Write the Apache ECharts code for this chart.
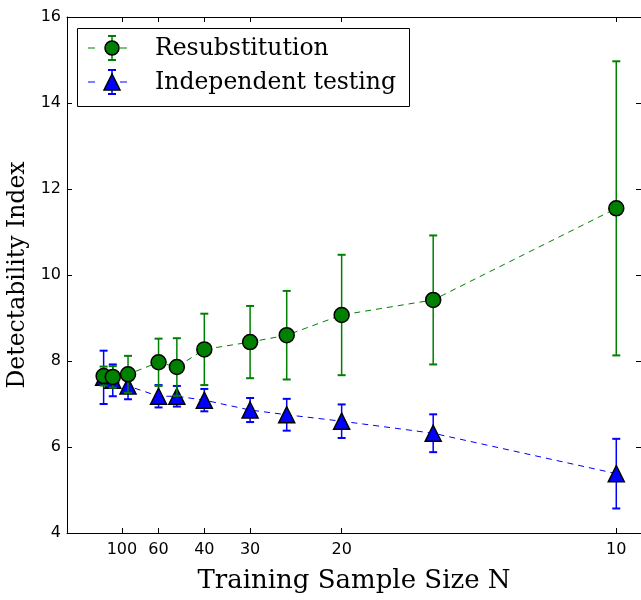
<!DOCTYPE html>
<html>
<head>
<meta charset="utf-8">
<script src="https://cdn.jsdelivr.net/npm/echarts@6/dist/echarts.min.js"></script>
<style>
  html, body { margin: 0; padding: 0; background: #fff; }
  #main { width: 641px; height: 600px; }
</style>
</head>
<body>
<div id="main"></div>
<script>
// data (x axis is plotted as 1/N)
var sampleSizes = [150, 120, 90, 60, 50, 40, 30, 25, 20, 15, 10];
var resubMean = [7.65, 7.63, 7.69, 7.97, 7.86, 8.27, 8.44, 8.60, 9.07, 9.42, 11.55];
var resubErr = [0.22, 0.25, 0.43, 0.55, 0.67, 0.83, 0.84, 1.03, 1.40, 1.50, 3.42];
var indepMean = [7.62, 7.55, 7.42, 7.18, 7.18, 7.09, 6.86, 6.75, 6.60, 6.32, 5.38];
var indepErr = [0.62, 0.37, 0.31, 0.26, 0.24, 0.26, 0.28, 0.37, 0.39, 0.44, 0.81];
var tickSizes = [100, 60, 40, 30, 20, 10];

var green = '#008000';
var blue = '#0000ff';

var tickVals = tickSizes.map(function (n) { return 1 / n; });

function pts(mean) {
  var out = [];
  for (var i = 0; i < sampleSizes.length; i++) {
    out.push([1 / sampleSizes[i], mean[i]]);
  }
  return out;
}
function bars(mean, err) {
  var out = [];
  for (var i = 0; i < sampleSizes.length; i++) {
    out.push([1 / sampleSizes[i], mean[i] - err[i], mean[i] + err[i]]);
  }
  return out;
}

// error bar drawing
function errRender(color) {
  return function (params, api) {
    var lo = api.coord([api.value(0), api.value(1)]);
    var hi = api.coord([api.value(0), api.value(2)]);
    var w = 4;
    var st = { stroke: color, lineWidth: 1.5 };
    var cap = { stroke: color, lineWidth: 2 };
    return {
      type: 'group',
      children: [
        { type: 'line', shape: { x1: lo[0], y1: lo[1], x2: hi[0], y2: hi[1] }, style: st },
        { type: 'line', shape: { x1: lo[0] - w, y1: lo[1], x2: lo[0] + w, y2: lo[1] }, style: cap },
        { type: 'line', shape: { x1: hi[0] - w, y1: hi[1], x2: hi[0] + w, y2: hi[1] }, style: cap }
      ]
    };
  };
}

var xCommon = {
  type: 'value',
  min: 0,
  max: 0.1045,
  axisLine: { show: true, onZero: false, lineStyle: { color: '#000', width: 1 } },
  axisTick: { show: true, inside: true, length: 5, customValues: tickVals, lineStyle: { color: '#000' } },
  splitLine: { show: false }
};

var yCommon = {
  type: 'value',
  min: 4,
  max: 16,
  interval: 2,
  axisLine: { show: true, onZero: false, lineStyle: { color: '#000', width: 1 } },
  axisTick: { show: true, inside: true, length: 5, lineStyle: { color: '#000' } },
  splitLine: { show: false }
};

// legend icon helper
function legendItem(y, color, symbol, label) {
  var els = [
    { type: 'line', shape: { x1: 88, y1: y, x2: 95, y2: y }, style: { stroke: color, lineWidth: 1 } },
    { type: 'line', shape: { x1: 120, y1: y, x2: 127, y2: y }, style: { stroke: color, lineWidth: 1 } },
    { type: 'line', shape: { x1: 112, y1: y - 12, x2: 112, y2: y + 12 }, style: { stroke: color, lineWidth: 1.5 } },
    { type: 'line', shape: { x1: 108, y1: y - 12, x2: 116, y2: y - 12 }, style: { stroke: color, lineWidth: 2 } },
    { type: 'line', shape: { x1: 108, y1: y + 12, x2: 116, y2: y + 12 }, style: { stroke: color, lineWidth: 2 } },
    symbol,
    { type: 'text', x: 155, y: y + 1, style: { text: label, fill: '#000', font: '23.5px "DejaVu Serif"', verticalAlign: 'middle' } }
  ];
  return els;
}

var legendEls = [
  { type: 'rect', shape: { x: 77.5, y: 28.5, width: 332, height: 78 }, style: { fill: '#fff', stroke: '#000', lineWidth: 1 } }
].concat(
  legendItem(48, green,
    { type: 'circle', shape: { cx: 112, cy: 48, r: 7 }, style: { fill: green, stroke: '#000', lineWidth: 1.5 } },
    'Resubstitution'),
  legendItem(82, blue,
    { type: 'polygon', shape: { points: [[112, 74], [104, 90], [120, 90]] }, style: { fill: blue, stroke: '#000', lineWidth: 1.5 } },
    'Independent testing')
);

var option = {
  animation: false,
  backgroundColor: '#fff',
  grid: { left: 67, right: 0, top: 17, bottom: 67, containLabel: false, outerBoundsMode: 'none' },
  xAxis: [
    Object.assign({}, xCommon, {
      position: 'bottom',
      axisLabel: {
        customValues: tickVals,
        formatter: function (v) { return Math.round(1 / v); },
        color: '#000', fontSize: 16, fontFamily: 'DejaVu Sans', margin: 9
      },
      name: 'Training Sample Size N',
      nameLocation: 'middle',
      nameGap: 35,
      nameTextStyle: { color: '#000', fontSize: 26, fontFamily: 'DejaVu Serif' }
    }),
    Object.assign({}, xCommon, { position: 'top', axisLabel: { show: false } })
  ],
  yAxis: [
    Object.assign({}, yCommon, {
      position: 'left',
      axisLabel: { color: '#000', fontSize: 16, fontFamily: 'DejaVu Sans', margin: 6 },
      name: 'Detectability Index',
      nameLocation: 'middle',
      nameGap: 33,
      nameTextStyle: { color: '#000', fontSize: 23.5, fontFamily: 'DejaVu Serif' }
    }),
    Object.assign({}, yCommon, { position: 'right', axisLabel: { show: false } })
  ],
  series: [
    {
      type: 'custom',
      name: 'Independent testing err',
      renderItem: errRender(blue),
      data: bars(indepMean, indepErr),
      encode: { x: 0, y: [1, 2] },
      z: 2
    },
    {
      type: 'line',
      name: 'Independent testing',
      data: pts(indepMean),
      symbol: 'triangle',
      symbolSize: 16,
      lineStyle: { color: blue, width: 1, type: [6, 5] },
      itemStyle: { color: blue, borderColor: '#000', borderWidth: 1.5 },
      z: 3
    },
    {
      type: 'custom',
      name: 'Resubstitution err',
      renderItem: errRender(green),
      data: bars(resubMean, resubErr),
      encode: { x: 0, y: [1, 2] },
      z: 4
    },
    {
      type: 'line',
      name: 'Resubstitution',
      data: pts(resubMean),
      symbol: 'circle',
      symbolSize: 15,
      lineStyle: { color: green, width: 1, type: [6, 5] },
      itemStyle: { color: green, borderColor: '#000', borderWidth: 1.5 },
      z: 5
    }
  ],
  graphic: legendEls
};

var myChart = echarts.init(document.getElementById('main'));
myChart.setOption(option);
</script>
</body>
</html>
